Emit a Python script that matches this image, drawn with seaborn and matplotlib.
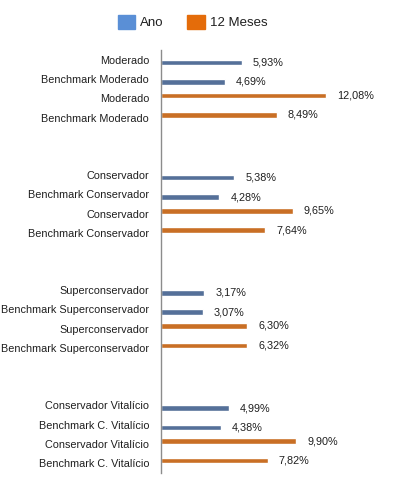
import pandas as pd
import matplotlib.pyplot as plt
import seaborn as sns
from matplotlib.patches import Patch

BAR_BLUE = '#4a6ea4'
LEG_BLUE = '#5a8fd6'
ORANGE = '#e46c0a'

# chart data
grupos = ['Moderado', 'Conservador', 'Superconservador', 'Conservador Vitalício']
rotulos = [
    ['Moderado', 'Benchmark Moderado', 'Moderado', 'Benchmark Moderado'],
    ['Conservador', 'Benchmark Conservador', 'Conservador', 'Benchmark Conservador'],
    ['Superconservador', 'Benchmark Superconservador', 'Superconservador', 'Benchmark Superconservador'],
    ['Conservador Vitalício', 'Benchmark C. Vitalício', 'Conservador Vitalício', 'Benchmark C. Vitalício'],
]
ano = [[5.93, 4.69], [5.38, 4.28], [3.17, 3.07], [4.99, 4.38]]
meses12 = [[12.08, 8.49], [9.65, 7.64], [6.30, 6.32], [9.90, 7.82]]
series = ['Ano', '12 Meses']

sns.set_theme(style='white')
plt.rcParams['font.family'] = ['Liberation Sans', 'DejaVu Sans']

# one slot per row, two empty slots between groups
rows = []
tick_pos, tick_lab = [], []
for g in range(len(grupos)):
    base = g * 6
    vals = ano[g] + meses12[g]
    for i in range(4):
        slot = base + i
        rows.append({'slot': str(slot), 'serie': series[0] if i < 2 else series[1],
                     'valor': vals[i]})
        tick_pos.append(slot)
        tick_lab.append(rotulos[g][i])
df = pd.DataFrame(rows)
order = [str(i) for i in range(22)]

fig = plt.figure(figsize=(3.97, 5.0), dpi=100)
ax = fig.add_axes([0.4055, 0.055, 0.55, 0.844])

sns.barplot(data=df, x='valor', y='slot', hue='serie', order=order,
            hue_order=['12 Meses', 'Ano'], palette={'Ano': BAR_BLUE, '12 Meses': ORANGE},
            width=0.55, dodge=True, orient='h', ax=ax, legend=False)

for cont in ax.containers:
    ax.bar_label(cont, labels=[('%.2f%%' % v).replace('.', ',') if v == v else '' for v in cont.datavalues],
                 padding=8, fontsize=7.8, color='#1f1f1f')

ax.set_xlim(0, 16)
ax.set_ylim(21.5, -0.5)
ax.set_yticks(tick_pos)
ax.set_yticklabels(tick_lab, fontsize=7.8, color='#1f1f1f')
ax.tick_params(axis='y', length=0, pad=8.5)
ax.set_xticks([])
ax.set_xlabel('')
ax.set_ylabel('')
for s in ['top', 'right', 'bottom']:
    ax.spines[s].set_visible(False)
ax.spines['left'].set_color('#8c8c8c')
ax.spines['left'].set_linewidth(1.0)

handles = [Patch(color=LEG_BLUE, label='Ano'), Patch(color=ORANGE, label='12 Meses')]
fig.legend(handles=handles, loc='center', bbox_to_anchor=(0.485, 0.956), ncol=2,
           frameon=False, fontsize=9.5, handlelength=1.35, handleheight=1.35,
           handletextpad=0.35, columnspacing=1.8, labelcolor='#1f1f1f')

fig.savefig('out.png', dpi=100)
